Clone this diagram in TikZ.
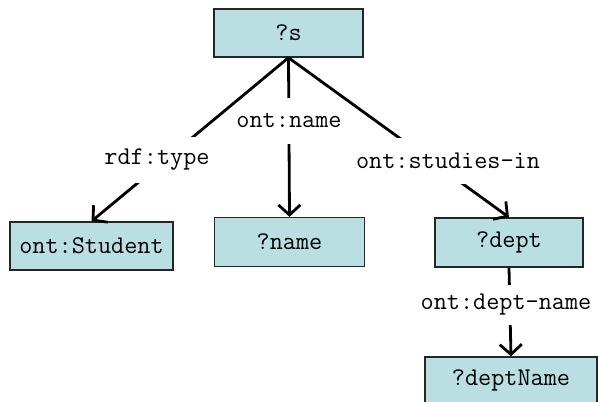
\documentclass[tikz,border=0pt]{standalone}
\usepackage{fontspec}
\usetikzlibrary{arrows.meta}
\definecolor{boxfill}{RGB}{185,223,226}
\begin{document}
\begin{tikzpicture}[x=1pt,y=-1pt,
  box/.style={draw=black!85, line width=1.4pt, fill=boxfill, inner sep=0pt,
    font=\ttfamily\fontsize{25.5}{28}\selectfont},
  lbl/.style={fill=white, inner xsep=3pt, inner ysep=0pt, minimum height=46pt,
    font=\ttfamily\fontsize{25.5}{28}\selectfont},
  edge/.style={line width=2.8pt, -{Straight Barb[length=10pt,width=22pt,line width=2.8pt]}}]
\useasboundingbox (0,0) rectangle (598,402);
\node[box, minimum width=149pt, minimum height=48pt] (s) at (288.5,33) {?s};
\node[box, minimum width=163pt, minimum height=48pt] (student) at (91.5,246) {ont:Student};
\node[box, minimum width=150pt, minimum height=49pt] (name) at (289.5,242) {?name};
\node[box, minimum width=148pt, minimum height=49pt] (dept) at (509,242.5) {?dept};
\node[box, minimum width=172pt, minimum height=46pt] (dname) at (511,380) {?deptName};
\draw[edge] (s.south) -- (name.north);
\node[lbl] (l2) at (289,121) {ont:name};
\draw[edge] (s.south) -- (student.north);
\draw[edge] (s.south) -- (dept.north);
\draw[edge] (dept.south) -- (dname.north);
\node[lbl] (l1) at (157,160) {rdf:type};
\node[lbl] (l3) at (448,161) {ont:studies-in};
\node[lbl, minimum height=40pt] (l4) at (506,305) {ont:dept-name};
\end{tikzpicture}
\end{document}
